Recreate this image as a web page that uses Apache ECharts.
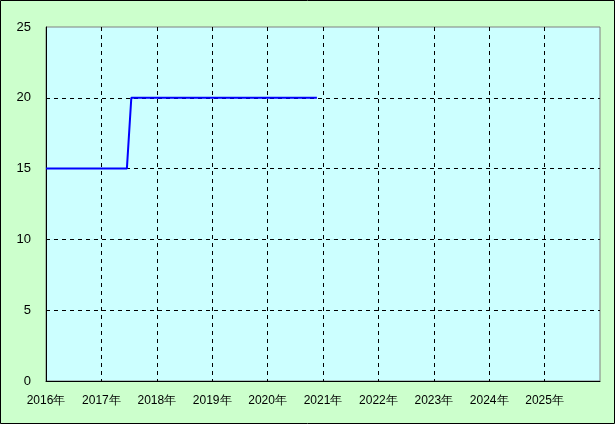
<!DOCTYPE html>
<html><head><meta charset="utf-8">
<script src="https://cdn.jsdelivr.net/npm/echarts@6/dist/echarts.min.js"></script>
<style>html,body{margin:0;padding:0;background:#ccffcc;}#c{width:615px;height:424px;}</style>
</head><body><div id="c"></div>
<script>
// decimal-year x values and values
const xYears = [2016.0, 2017.46, 2017.54, 2020.89];
const values = [15, 15, 20, 20];
const yTicks = [0, 5, 10, 15, 20, 25];
const xTickSuffix = '年';

const chart = echarts.init(document.getElementById('c'), null, {renderer: 'canvas'});
const font = '"MS PGothic","Liberation Sans","DejaVu Sans",sans-serif';
chart.setOption({
  animation: false,
  backgroundColor: '#ccffcc',
  grid: {left: 46, top: 27, right: 15, bottom: 43, show: true, backgroundColor: '#ccffff', borderColor: '#808080', borderWidth: 1},
  xAxis: {
    type: 'value', min: 2016, max: 2026, interval: 1,
    axisLine: {show: true, lineStyle: {color: '#000', width: 1}},
    axisTick: {show: false},
    axisLabel: {color: '#000', fontFamily: font, fontSize: 12, margin: 14, formatter: v => v < 2026 ? v + xTickSuffix : ''},
    splitLine: {show: true, showMinLine: false, showMaxLine: false, lineStyle: {color: '#000', type: [4, 4], width: 1}}
  },
  yAxis: {
    type: 'value', min: yTicks[0], max: yTicks[yTicks.length - 1], interval: 5,
    axisLine: {show: true, lineStyle: {color: '#000', width: 1}},
    axisTick: {show: false},
    axisLabel: {color: '#000', fontFamily: font, fontSize: 13, margin: 15},
    splitLine: {show: true, showMinLine: false, showMaxLine: false, lineStyle: {color: '#000', type: [4, 4], width: 1}}
  },
  graphic: [{type: 'rect', shape: {x: 0.5, y: 0.5, width: 614, height: 423}, style: {fill: 'none', stroke: '#000', lineWidth: 1}, z: 100}],
  series: [{
    type: 'line', data: xYears.map((x, i) => [x, values[i]]),
    showSymbol: false, symbol: 'none',
    lineStyle: {color: '#0000ff', width: 2}
  }]
});
</script></body></html>
